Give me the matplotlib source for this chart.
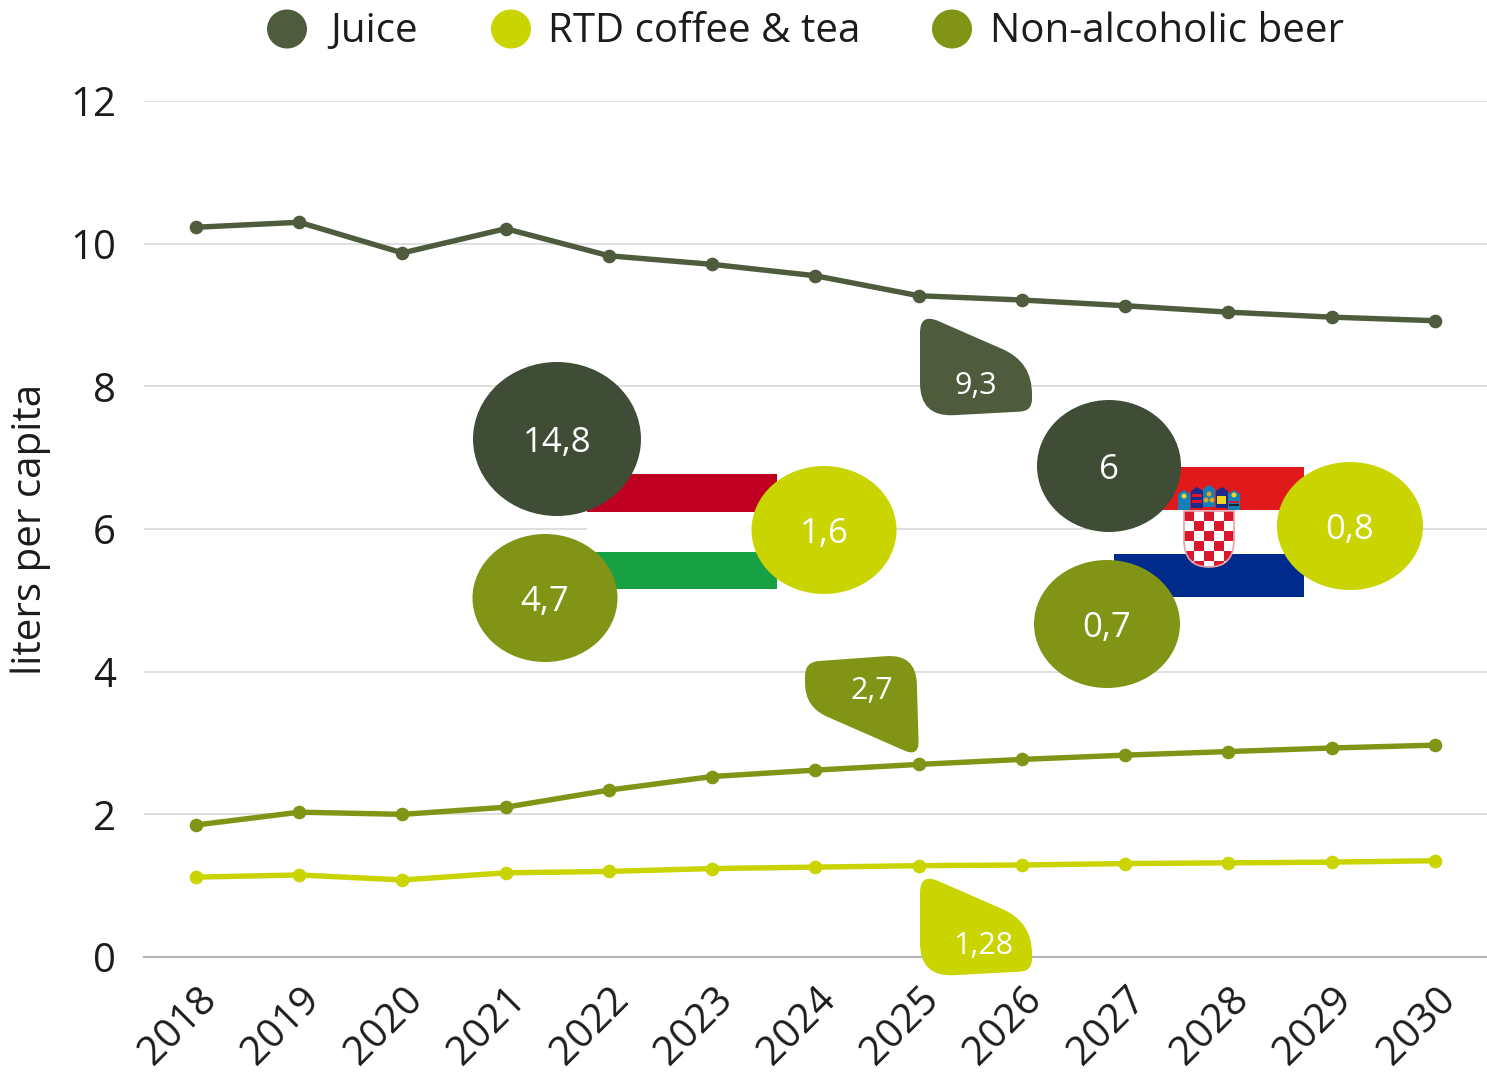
import numpy as np
from matplotlib import pyplot as plt
from matplotlib.patches import Ellipse, PathPatch, Polygon, Rectangle
from matplotlib.path import Path

plt.rcParams['font.family'] = ['Open Sans', 'DejaVu Sans']

years = list(range(2018, 2031))
juice = [10.23, 10.30, 9.87, 10.21, 9.83, 9.71, 9.55, 9.27, 9.21, 9.13, 9.04, 8.97, 8.92]
rtd = [1.12, 1.15, 1.08, 1.18, 1.20, 1.24, 1.26, 1.28, 1.29, 1.31, 1.32, 1.33, 1.35]
beer = [1.85, 2.03, 2.00, 2.10, 2.34, 2.53, 2.62, 2.70, 2.77, 2.83, 2.88, 2.93, 2.97]
y_ticks = [0, 2, 4, 6, 8, 10, 12]
series_names = ['Juice', 'RTD coffee & tea', 'Non-alcoholic beer']

hungary_labels = ['14,8', '4,7', '1,6']
croatia_labels = ['6', '0,7', '0,8']
callout_labels = ['9,3', '2,7', '1,28']

JUICE_C = '#4e5b3c'
DARK_C = '#3f4d36'
RTD_C = '#c9d400'
BEER_C = '#829415'
TEXT_C = '#1c1c1c'
W, H = 1487, 1074


def rounded_shape(corners, radii):
    # polygon with rounded corners, quadratic curve at every corner
    verts, codes = [], []
    n = len(corners)
    for i in range(n):
        p = np.array(corners[i], float)
        prev = np.array(corners[i - 1], float)
        nxt = np.array(corners[(i + 1) % n], float)
        a = p + (prev - p) / np.linalg.norm(prev - p) * radii[i]
        b = p + (nxt - p) / np.linalg.norm(nxt - p) * radii[i]
        verts += [a, p, b]
        codes += [Path.MOVETO if i == 0 else Path.LINETO, Path.CURVE3, Path.CURVE3]
    verts.append(verts[0])
    codes.append(Path.CLOSEPOLY)
    return Path(verts, codes)


fig = plt.figure(figsize=(W / 100, H / 100), dpi=100)
ax = fig.add_axes([144 / W, (H - 957) / H, (W - 144) / W, (957 - 101) / H])
for values, color in [(juice, JUICE_C), (rtd, RTD_C), (beer, BEER_C)]:
    ax.plot(years, values, color=color, lw=3.9, marker='o', ms=8.8, clip_on=False, zorder=3)

ax.set_xlim(2018 - 52 / 103.25, 2030 + 52 / 103.25)
ax.set_ylim(0, 12)
ax.set_xticks(years)
ax.set_yticks(y_ticks)
ax.grid(axis='y', color='#dcdcdc', lw=1.3)
ax.set_axisbelow(True)
for side in ['top', 'left', 'right']:
    ax.spines[side].set_visible(False)
ax.spines['bottom'].set_color('#b4b4b4')
ax.spines['bottom'].set_linewidth(1.5)
ax.tick_params(length=0)
ax.tick_params(axis='y', labelsize=29, labelcolor=TEXT_C, pad=20)
ax.tick_params(axis='x', labelsize=29, labelcolor=TEXT_C, pad=16)
plt.setp(ax.get_xticklabels(), rotation=45, ha='right', rotation_mode='anchor')

# everything on top of the chart is placed in image pixels
ov = fig.add_axes([0, 0, 1, 1], zorder=5)
ov.set_xlim(0, W)
ov.set_ylim(H, 0)
ov.axis('off')
ov.patch.set_alpha(0)

ov.text(31, 529, 'liters per capita', rotation=90, ha='center', va='center', fontsize=29, color=TEXT_C)

# legend
for cx, tx, name, color in zip([287, 511, 952], [330, 548, 990], series_names, [JUICE_C, RTD_C, BEER_C]):
    ov.add_patch(Ellipse((cx, 29), 40, 39, color=color, lw=0))
    ov.text(tx, 32, name, ha='left', va='center', fontsize=29, color=TEXT_C)

# Hungarian flag
ov.add_patch(Rectangle((587, 474), 190, 38, color='#c00020', lw=0))
ov.add_patch(Rectangle((587, 512), 190, 40, color='white', lw=0))
ov.add_patch(Rectangle((587, 552), 190, 37, color='#18a044', lw=0))

# Croatian flag
ov.add_patch(Rectangle((1114, 467), 190, 43, color='#e01a1a', lw=0))
ov.add_patch(Rectangle((1114, 510), 190, 44, color='white', lw=0))
ov.add_patch(Rectangle((1114, 554), 190, 43, color='#002a8c', lw=0))

shield = Path([(1184, 511), (1234, 511), (1234, 540), (1234, 567), (1209, 567), (1184, 567), (1184, 540), (1184, 511)],
              [Path.MOVETO, Path.LINETO, Path.LINETO, Path.CURVE3, Path.CURVE3, Path.CURVE3, Path.CURVE3, Path.CLOSEPOLY])
ov.add_patch(PathPatch(shield, fc='white', ec='none'))
for row in range(6):
    for col in range(5):
        if (row + col) % 2 == 0:
            cell = Rectangle((1184 + col * 10, 511 + row * 10), 10, 10, color='#d8182c', lw=0)
            ov.add_patch(cell)
            cell.set_clip_path(PathPatch(shield, transform=ov.transData))
ov.add_patch(PathPatch(shield, fc='none', ec='#e8a0a8', lw=1.2))

crown = [(1178, 490, 510, '#1580b8'), (1191, 487, 508, '#1c2a8c'), (1203, 485, 507, '#1580b8'),
         (1216, 487, 508, '#1c2a8c'), (1228, 490, 510, '#1580b8')]
for cx, top, bottom, color in crown:
    ov.add_patch(Polygon([(cx, top + 4), (cx + 6, top), (cx + 12, top + 4), (cx + 12, bottom), (cx, bottom)], color=color, lw=0))
ov.add_patch(Rectangle((1192, 494), 10, 3, color='#d8182c', lw=0))
ov.add_patch(Rectangle((1192, 500), 10, 3, color='#d8182c', lw=0))
ov.add_patch(Ellipse((1209, 494), 5, 5, color='#d8a820', lw=0))
ov.add_patch(Ellipse((1206, 500), 5, 5, color='#d8a820', lw=0))
ov.add_patch(Ellipse((1212, 500), 5, 5, color='#d8a820', lw=0))
ov.add_patch(Rectangle((1217, 496), 9, 8, color='#f0d820', lw=0))
ov.add_patch(Rectangle((1229, 501), 10, 2, color='#d8182c', lw=0))
ov.add_patch(Rectangle((1229, 504), 10, 2, color='#222222', lw=0))
ov.add_patch(Ellipse((1184, 496), 5, 5, color='#f0d820', lw=0))
ov.add_patch(Ellipse((1234, 495), 5, 5, color='#f0d820', lw=0))

# country bubbles
bubbles = [
    (hungary_labels[0], (557, 439), 168, 154, DARK_C),
    (hungary_labels[1], (545, 598), 145, 128, BEER_C),
    (hungary_labels[2], (824, 530), 145, 128, RTD_C),
    (croatia_labels[0], (1109, 466), 144, 132, DARK_C),
    (croatia_labels[1], (1107, 624), 146, 128, BEER_C),
    (croatia_labels[2], (1350, 526), 146, 128, RTD_C),
]
for label, center, w, h, color in bubbles:
    ov.add_patch(Ellipse(center, w, h, color=color, lw=0))
    ov.text(center[0], center[1] + 4, label, color='white', fontsize=25, ha='center', va='center')

# callouts for 2025
upper = [(920, 313), (1032, 362), (1032, 411), (920, 417)]
upper_r = [20, 32, 12, 34]
ov.add_patch(PathPatch(rounded_shape(upper, upper_r), fc=JUICE_C, ec='none'))
ov.text(976, 386, callout_labels[0], color='white', fontsize=22, ha='center', va='center')

lower = [(x, y + 560) for x, y in upper]
ov.add_patch(PathPatch(rounded_shape(lower, upper_r), fc=RTD_C, ec='none'))
ov.text(983, 946, callout_labels[2], color='white', fontsize=22, ha='center', va='center')

middle = [(805, 662), (916, 654), (919, 757), (805, 707)]
middle_r = [14, 30, 16, 24]
ov.add_patch(PathPatch(rounded_shape(middle, middle_r), fc=BEER_C, ec='none'))
ov.text(872, 691, callout_labels[1], color='white', fontsize=22, ha='center', va='center')

fig.savefig('out.png', dpi=100)
